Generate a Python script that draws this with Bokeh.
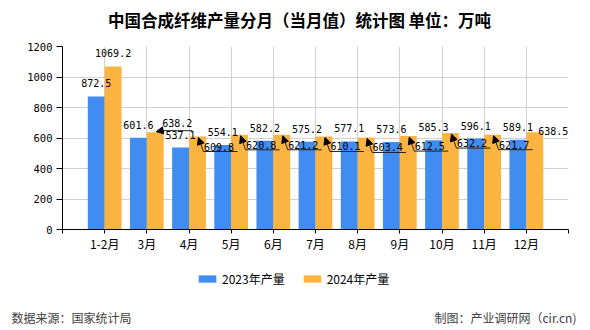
from bokeh.plotting import figure
from bokeh.layouts import column, row
from bokeh.models import (Range1d, FixedTicker, ColumnDataSource, Legend,
                          LegendItem, Arrow, NormalHead, Spacer)
from bokeh.core.properties import value
from bokeh.embed import file_html
from bokeh.resources import INLINE

# ---------------- data ----------------
months = ["1-2月", "3月", "4月", "5月", "6月", "7月", "8月", "9月", "10月", "11月", "12月"]
prod_2023 = [872.5, 601.6, 537.1, 554.1, 582.2, 575.2, 577.1, 573.6, 585.3, 596.1, 589.1]
prod_2024 = [1069.2, 638.2, 609.8, 620.8, 621.2, 610.1, 603.4, 612.5, 632.2, 621.7, 638.5]
series_names = ["2023年产量", "2024年产量"]
y_ticks = [0, 200, 400, 600, 800, 1000, 1200]
title_text = "中国合成纤维产量分月（当月值）统计图 单位：万吨"
source_text = "数据来源：国家统计局"
maker_text = "制图：产业调研网（cir.cn)"

# label placement for the 2024 series (style, not data)
label_modes_2024 = ["top", "up", "down", "down", "down", "down", "down", "down", "down", "down", "right"]

# ---------------- layout ----------------
W = 590
TOP_H, MAIN_H, LEG_H, RULE_H, FOOT_H = 30, 232, 35, 2, 31
RULE_L, RULE_R = 10, 12
BL, BR, BT = 62, 22, 16
FH = 183
FW = W - BL - BR
BB = MAIN_H - BT - FH
X0, X1 = -1, len(months)
Y0, Y1 = 0, 1200
ux = (X1 - X0) / FW    # data units per px (x)
uy = (Y1 - Y0) / FH    # data units per px (y)

BLUE = "#418CF0"
ORANGE = "#FCB441"
RULE_GRAY = "#8a8a8a"
NUM_FONT = "DejaVu Sans Mono"
CJK_FONT = "Noto Sans CJK SC"


def blank(h, w=W, bg="white", border="white"):
    f = figure(width=w, height=h, x_range=Range1d(0, w), y_range=Range1d(0, h),
               x_axis_type=None, y_axis_type=None, min_border=0,
               output_backend="svg", toolbar_location=None)
    f.frame_align = False
    f.grid.visible = False
    f.outline_line_color = None
    f.background_fill_color = bg
    f.border_fill_color = border
    return f


# ---------------- title ----------------
pt = blank(TOP_H)
pt.text(x=[299], y=[TOP_H - 19], text=[title_text], text_align="center", text_baseline="middle",
        text_font=value(CJK_FONT), text_font_size="16.5px", text_font_style="bold",
        text_color="black")

# ---------------- main chart ----------------
p = figure(width=W, height=MAIN_H, x_range=Range1d(X0, X1), y_range=Range1d(Y0, Y1),
           min_border_left=BL, min_border_right=BR, min_border_top=BT, min_border_bottom=BB,
           output_backend="svg", toolbar_location=None)
p.frame_align = False
p.outline_line_color = None
p.background_fill_color = "white"
p.border_fill_color = "white"

idx = list(range(len(months)))
xa = [i - 0.2 for i in idx]
xb = [i + 0.2 for i in idx]

r1 = p.vbar(x=xa, top=prod_2023, width=0.4, fill_color=BLUE, line_color=None)
r2 = p.vbar(x=xb, top=prod_2024, width=0.4, fill_color=ORANGE, line_color=None)

p.xaxis.ticker = FixedTicker(ticks=list(range(X0, X1 + 1)))
ov = {i: months[i] for i in idx}
ov[X0] = ""
ov[X1] = ""
p.xaxis.major_label_overrides = ov
p.xaxis.major_tick_in = 0
p.xaxis.major_tick_out = 4
p.xaxis.minor_tick_line_color = None
p.xaxis.axis_line_color = "black"
p.xaxis.major_tick_line_color = "black"
p.xaxis.major_label_text_font = CJK_FONT
p.xaxis.major_label_text_font_size = "12px"
p.xaxis.major_label_text_color = "black"
p.xaxis.major_label_standoff = 1

p.yaxis.ticker = FixedTicker(ticks=y_ticks)
p.yaxis.major_tick_in = 0
p.yaxis.major_tick_out = 6
p.yaxis.minor_tick_line_color = None
p.yaxis.axis_line_color = "black"
p.yaxis.major_tick_line_color = "black"
p.yaxis.major_label_text_font = NUM_FONT
p.yaxis.major_label_text_font_size = "10.5px"
p.yaxis.major_label_text_color = "black"
p.yaxis.major_label_standoff = 4

p.xgrid.ticker = FixedTicker(ticks=list(range(0, X1 + 1)))
p.ygrid.ticker = FixedTicker(ticks=y_ticks[1:])
p.xgrid.grid_line_color = "#d0d0d0"
p.ygrid.grid_line_color = "#d0d0d0"

# value labels for 2023 (above bars)
p.text(x=xa, y=prod_2023, text=[f"{v:.1f}" for v in prod_2023],
       text_align="center", text_baseline="alphabetic", y_offset=-13,
       text_font=value(NUM_FONT), text_font_size="10px", text_color="black")

# value labels for 2024 with leaders
top_x, top_y, top_t = [], [], []
right_x, right_y, right_t = [], [], []
lab_x, lab_y, lab_t, lab_off = [], [], [], []
arr = dict(x_start=[], y_start=[], x_end=[], y_end=[])
seg = dict(x0=[], y0=[], x1=[], y1=[])
for i, v in enumerate(prod_2024):
    cx = xb[i]
    mode = label_modes_2024[i]
    txt = f"{v:.1f}"
    if mode == "top":
        top_x.append(cx); top_y.append(v); top_t.append(txt)
    elif mode == "right":
        right_x.append(cx + 0.2); right_y.append(v); right_t.append(txt)
    else:
        if mode == "up":
            tip = (cx + 1 * ux, v + 0.5 * uy)
            elbow = (cx + 6 * ux, v + 1.5 * uy)
            end_x = cx + 37 * ux
            tx = cx + 7 * ux
            off = -8
        else:
            tip = (cx + 1 * ux, v - 1 * uy)
            elbow = (cx + 6 * ux, v - 15 * uy)
            end_x = elbow[0] + 34 * ux
            tx = elbow[0] + 0.5 * ux
            off = -5
        arr["x_start"].append(elbow[0]); arr["y_start"].append(elbow[1])
        arr["x_end"].append(tip[0]); arr["y_end"].append(tip[1])
        seg["x0"].append(elbow[0]); seg["y0"].append(elbow[1])
        seg["x1"].append(end_x); seg["y1"].append(elbow[1])
        lab_x.append(tx); lab_y.append(elbow[1]); lab_t.append(txt); lab_off.append(off)

p.text(x=top_x, y=top_y, text=top_t, text_align="center", text_baseline="alphabetic",
       y_offset=-13, text_font=value(NUM_FONT), text_font_size="10px", text_color="black")
p.text(x=right_x, y=right_y, text=right_t, text_align="left", text_baseline="middle",
       x_offset=-5, y_offset=-1, text_font=value(NUM_FONT), text_font_size="10px", text_color="black")
p.segment(x0="x0", y0="y0", x1="x1", y1="y1", source=ColumnDataSource(seg),
          line_color="#222222", line_width=1)
p.add_layout(Arrow(end=NormalHead(size=7, fill_color="black", line_color="black"),
                   source=ColumnDataSource(arr), x_start="x_start", y_start="y_start",
                   x_end="x_end", y_end="y_end", line_color="#222222", line_width=1))
p.text(x=lab_x, y=lab_y, text=lab_t, text_align="left", text_baseline="alphabetic",
       y_offset=lab_off, text_font=value(NUM_FONT), text_font_size="10px", text_color="black")

# ---------------- legend ----------------
pl = blank(LEG_H)
# legend proxies: one point each, placed outside the visible range
d1 = pl.vbar(x=[-1000], top=[0], width=1, fill_color=BLUE, line_color=None)
d2 = pl.vbar(x=[-1000], top=[0], width=1, fill_color=ORANGE, line_color=None)
legend = Legend(items=[LegendItem(label=series_names[0], renderers=[d1]),
                       LegendItem(label=series_names[1], renderers=[d2])],
                orientation="horizontal", location=(196, LEG_H - 25),
                glyph_width=22, glyph_height=9, label_standoff=4, spacing=16,
                padding=0, margin=0, border_line_color=None, background_fill_alpha=0,
                label_text_font=CJK_FONT, label_text_font_size="12px",
                label_text_color="black")
pl.add_layout(legend)

# ---------------- separator rule (a thin gray canvas between spacers) ----------------
pr = blank(RULE_H, w=W - RULE_L - RULE_R, bg=RULE_GRAY, border=RULE_GRAY)
rule_row = row(Spacer(width=RULE_L, height=RULE_H), pr, Spacer(width=RULE_R, height=RULE_H),
               spacing=0)

# ---------------- footer ----------------
pf = blank(FOOT_H)
pf.text(x=[11], y=[FOOT_H - 18], text=[source_text], text_align="left", text_baseline="middle",
        text_font=value(CJK_FONT), text_font_size="12px", text_color="#404040")
pf.text(x=[576], y=[FOOT_H - 18], text=[maker_text], text_align="right", text_baseline="middle",
        text_font=value(CJK_FONT), text_font_size="12px", text_color="#404040")

layout = column(pt, p, pl, rule_row, pf, spacing=0)
open("out.html", "w").write(file_html(layout, INLINE))
